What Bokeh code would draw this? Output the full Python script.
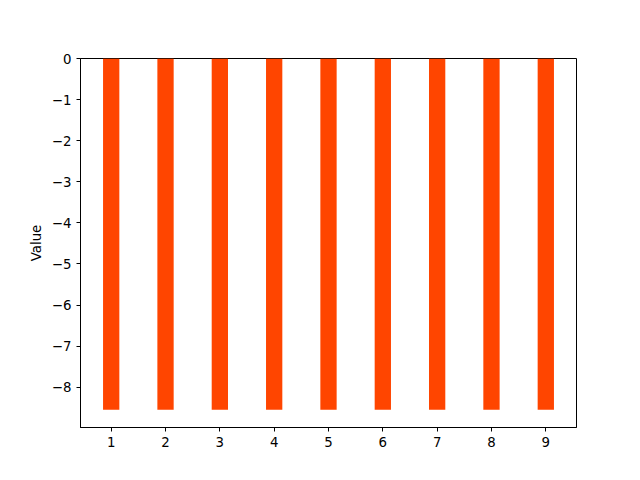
from bokeh.plotting import figure
from bokeh.models import FixedTicker, Range1d
from bokeh.embed import file_html
from bokeh.resources import INLINE

categories = [1, 2, 3, 4, 5, 6, 7, 8, 9]
values = [-8.55, -8.55, -8.55, -8.55, -8.55, -8.55, -8.55, -8.55, -8.55]
y_ticks = [0, -1, -2, -3, -4, -5, -6, -7, -8]

p = figure(width=640, height=480, output_backend="svg", toolbar_location=None,
           x_range=Range1d(0.435, 9.565), y_range=Range1d(-8.98, 0),
           min_border_left=80, min_border_right=64, min_border_top=58, min_border_bottom=53)

p.vbar(x=categories, top=0, bottom=values, width=0.3, color="#FF4500", line_color=None)

p.xgrid.visible = False
p.ygrid.visible = False
p.outline_line_color = "black"
p.outline_line_width = 1
p.outline_line_alpha = 1

p.xaxis.ticker = FixedTicker(ticks=categories)
p.yaxis.ticker = FixedTicker(ticks=y_ticks)
p.yaxis.major_label_overrides = {t: (str(t).replace("-", "\u2212")) for t in y_ticks}
p.yaxis.axis_label = "Value"

for ax in (p.xaxis[0], p.yaxis[0]):
    ax.minor_tick_line_color = None
    ax.major_tick_in = 0
    ax.major_tick_out = 4
    ax.axis_line_color = "black"
    ax.major_label_text_font = "DejaVu Sans"
    ax.major_label_text_font_size = "10pt"
    ax.major_label_text_color = "black"
    ax.axis_label_text_font = "DejaVu Sans"
    ax.axis_label_text_font_size = "10pt"
    ax.axis_label_text_font_style = "normal"
    ax.axis_label_text_color = "black"

p.background_fill_color = "white"
p.border_fill_color = "white"

open("out.html", "w").write(file_html(p, INLINE))
